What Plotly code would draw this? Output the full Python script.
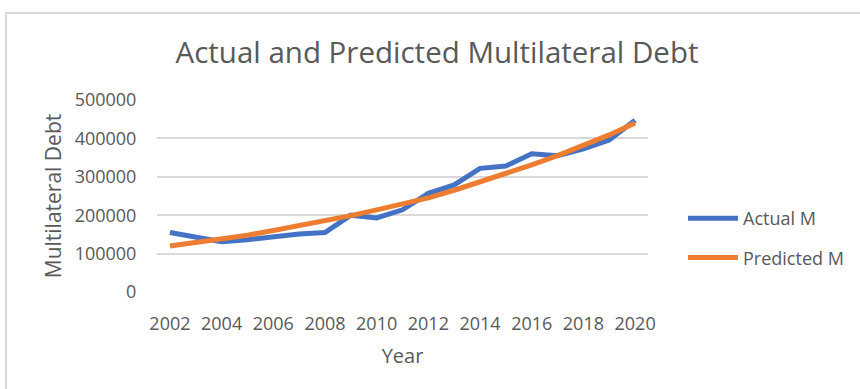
import plotly.graph_objects as go

years = list(range(2002, 2021))
actual_m = [155000, 144000, 131000, 136000, 144000, 151000, 155000, 200000, 193000, 214000,
            257000, 279000, 322000, 328000, 360000, 355000, 373000, 396000, 447000]
predicted_m = [120000, 129000, 137000, 148000, 160000, 172000, 185000, 199000, 214000, 230000,
               245000, 265000, 286000, 307000, 331000, 355000, 381000, 409000, 440000]
x_ticks = list(range(2002, 2021, 2))
y_ticks = [0, 100000, 200000, 300000, 400000, 500000]

FONT = "Open Sans"
GREY = "#595959"

fig = go.Figure()
fig.add_trace(go.Scatter(x=years, y=actual_m, mode="lines", name="Actual M",
                         line=dict(color="#4472C4", width=5), legendgroup="a"))
fig.add_trace(go.Scatter(x=years, y=predicted_m, mode="lines", name="Predicted M",
                         line=dict(color="#ED7D31", width=5), legendgroup="b"))

L, R, T, B = 157, 212, 100, 97
W, H = 860, 389
pw, ph = W - L - R, H - T - B

def px2x(p):
    return (p - L) / pw

def py2y(p):
    return (H - B - p) / ph

fig.update_layout(
    width=W, height=H,
    margin=dict(l=L, r=R, t=T, b=B, autoexpand=False),
    paper_bgcolor="white", plot_bgcolor="white",
    font=dict(family=FONT, color=GREY, size=18),
    title=dict(text="Actual and Predicted Multilateral Debt", x=437 / W, xanchor="center",
               y=1 - 53 / H, yanchor="middle", font=dict(size=29.5, color=GREY, family=FONT)),
    showlegend=True,
    legend=dict(x=px2x(683), y=py2y(200), xanchor="left", yanchor="top",
                font=dict(size=18, color=GREY, family=FONT), traceorder="grouped",
                tracegroupgap=13, itemwidth=50, bgcolor="rgba(0,0,0,0)"),
    xaxis=dict(range=[2001.5, 2020.5], tickmode="array", tickvals=x_ticks,
               ticktext=[str(v) for v in x_ticks], showgrid=False, zeroline=False,
               showline=False, ticks="outside", ticklen=15, tickcolor="rgba(0,0,0,0)",
               tickfont=dict(size=18, color=GREY),
               title=dict(text="Year", font=dict(size=20, color=GREY), standoff=15)),
    yaxis=dict(range=[0, 500000], tickmode="array", tickvals=y_ticks,
               ticktext=[str(v) for v in y_ticks], showgrid=True, gridcolor="#d9d9d9",
               gridwidth=1.5, zeroline=False, showline=False, ticks="outside", ticklen=16,
               tickcolor="rgba(0,0,0,0)", tickfont=dict(size=18, color=GREY),
               title=dict(text="Multilateral Debt", font=dict(size=21, color=GREY), standoff=7)),
    shapes=[dict(type="rect", xref="paper", yref="paper",
                 x0=px2x(6), x1=px2x(870), y0=py2y(400), y1=py2y(13),
                 line=dict(color="#d9d9d9", width=2), fillcolor="rgba(0,0,0,0)", layer="below")],
)

fig.write_html("out.html")
